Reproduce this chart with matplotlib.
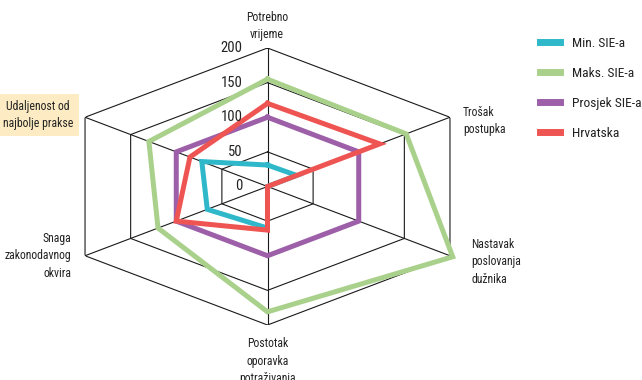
import numpy as np
import matplotlib
matplotlib.use("Agg")
import matplotlib.pyplot as plt
from matplotlib import font_manager
from matplotlib.font_manager import FontProperties
from matplotlib.transforms import offset_copy


def pick_narrow_font():
    """Return the path of an installed condensed/narrow regular sans font."""
    wanted_families = ['Roboto Condensed', 'Liberation Sans Narrow', 'DejaVu Sans',
                       'Noto Sans', 'Open Sans', 'Roboto', 'Lato', 'Inter']
    found = []
    for f in font_manager.fontManager.ttflist:
        name = f.name
        path = f.fname.lower()
        narrow = (str(f.stretch) in ('condensed', 'semi-condensed', 'extra-condensed')
                  or 'condensed' in path or 'narrow' in path)
        if not narrow:
            continue
        if f.style != 'normal' or f.weight not in (400, 'normal', 'regular'):
            continue
        if 'semicondensed' in path or 'extracondensed' in path:
            continue
        rank = wanted_families.index(name) if name in wanted_families else 99
        found.append((rank, f.fname))
    if found:
        found.sort()
        return found[0][1]
    return None


narrow_path = pick_narrow_font()


def fp(size):
    if narrow_path:
        return FontProperties(fname=narrow_path, size=size)
    return FontProperties(family='DejaVu Sans', size=size * 0.85)


# Axes (clockwise from the top)
categories = [
    "Potrebno\nvrijeme",
    "Trošak\npostupka",
    "Nastavak\nposlovanja\ndužnika",
    "Postotak\noporavka\npotraživanja",
    "Snaga\nzakonodavnog\nokvira",
    "Udaljenost od\nnajbolje prakse",
]

series_names = ["Min. SIE-a", "Maks. SIE-a", "Prosjek SIE-a", "Hrvatska"]
min_sie = [31, 32, 0, 60, 66, 72]
maks_sie = [155, 152, 203, 181, 120, 130]
prosjek_sie = [100, 100, 100, 100, 100, 100]
hrvatska = [120, 123, 0, 63, 100, 85]

ring_levels = [0, 50, 100, 150, 200]
ring_labels = ["0", "50", "100", "150", "200"]

colors = ["#2fb8c9", "#a9d18b", "#9c5fa8", "#ee5552"]

W, H = 642, 380
fig = plt.figure(figsize=(W / 100, H / 100), dpi=100)

cx, cy = 267.5, 186.5
a = 210.7   # horizontal semi-axis in px
b = 138.5   # vertical semi-axis in px
ax = fig.add_axes([(cx - a) / W, 1 - (cy + b) / H, 2 * a / W, 2 * b / H],
                  projection='polar')
ax.set_aspect('auto')
ax.set_theta_zero_location('N')
ax.set_theta_direction(-1)
ax.set_ylim(0, 200)
ax.grid(False)
ax.spines['polar'].set_visible(False)
ax.set_xticks([])
ax.set_yticks([])
ax.patch.set_alpha(0)

n = len(categories)
angles = np.arange(n) * 2 * np.pi / n
closed = np.append(angles, angles[0])

# hexagonal grid
for r in ring_levels[1:]:
    ax.plot(closed, [r] * (n + 1), color='#1a1a1a', lw=0.8, zorder=1)
for ang in angles:
    ax.plot([ang, ang], [0, 200], color='#1a1a1a', lw=0.8, zorder=1)

# series
all_series = [min_sie, maks_sie, prosjek_sie, hrvatska]
for name, vals, col in zip(series_names, all_series, colors):
    ax.plot(closed, list(vals) + [vals[0]], color=col, lw=3.6,
            solid_joinstyle='miter', label=name, zorder=3, clip_on=False)

# ring value labels beside the top spoke
lab_tr = offset_copy(ax.transData, fig=fig, x=-25, y=0, units='dots')
for r, t in zip(ring_levels, ring_labels):
    ax.text(0, r, t, transform=lab_tr, ha='right', va='center',
            fontproperties=fp(10.5), color='#222222', zorder=5)


def px(x, y):
    return x / W, 1 - y / H


lbl = dict(fontproperties=fp(8.5), color='#222222', linespacing=1.45)
fig.text(*px(267, 26), categories[0], ha='center', va='center', **lbl)
fig.text(*px(463, 121), categories[1], ha='left', va='center', **lbl)
fig.text(*px(471, 262), categories[2], ha='left', va='center', **lbl)
fig.text(*px(268, 361), categories[3], ha='center', va='center', **lbl)
fig.text(*px(71, 256), categories[4], ha='right', va='center',
         multialignment='right', **lbl)
fig.text(*px(38, 115), categories[5], ha='center', va='center',
         bbox=dict(boxstyle='square,pad=0.45', fc='#fdecc3', ec='none'), **lbl)

leg = fig.legend(loc='upper left', bbox_to_anchor=px(540, 37), frameon=False,
                 prop=fp(9.7), handlelength=1.45, handletextpad=0.95,
                 labelspacing=1.25, borderaxespad=0, borderpad=0)
for line in leg.get_lines():
    line.set_linewidth(5)
for t in leg.get_texts():
    t.set_color('#222222')

fig.savefig("out.png", dpi=100)
